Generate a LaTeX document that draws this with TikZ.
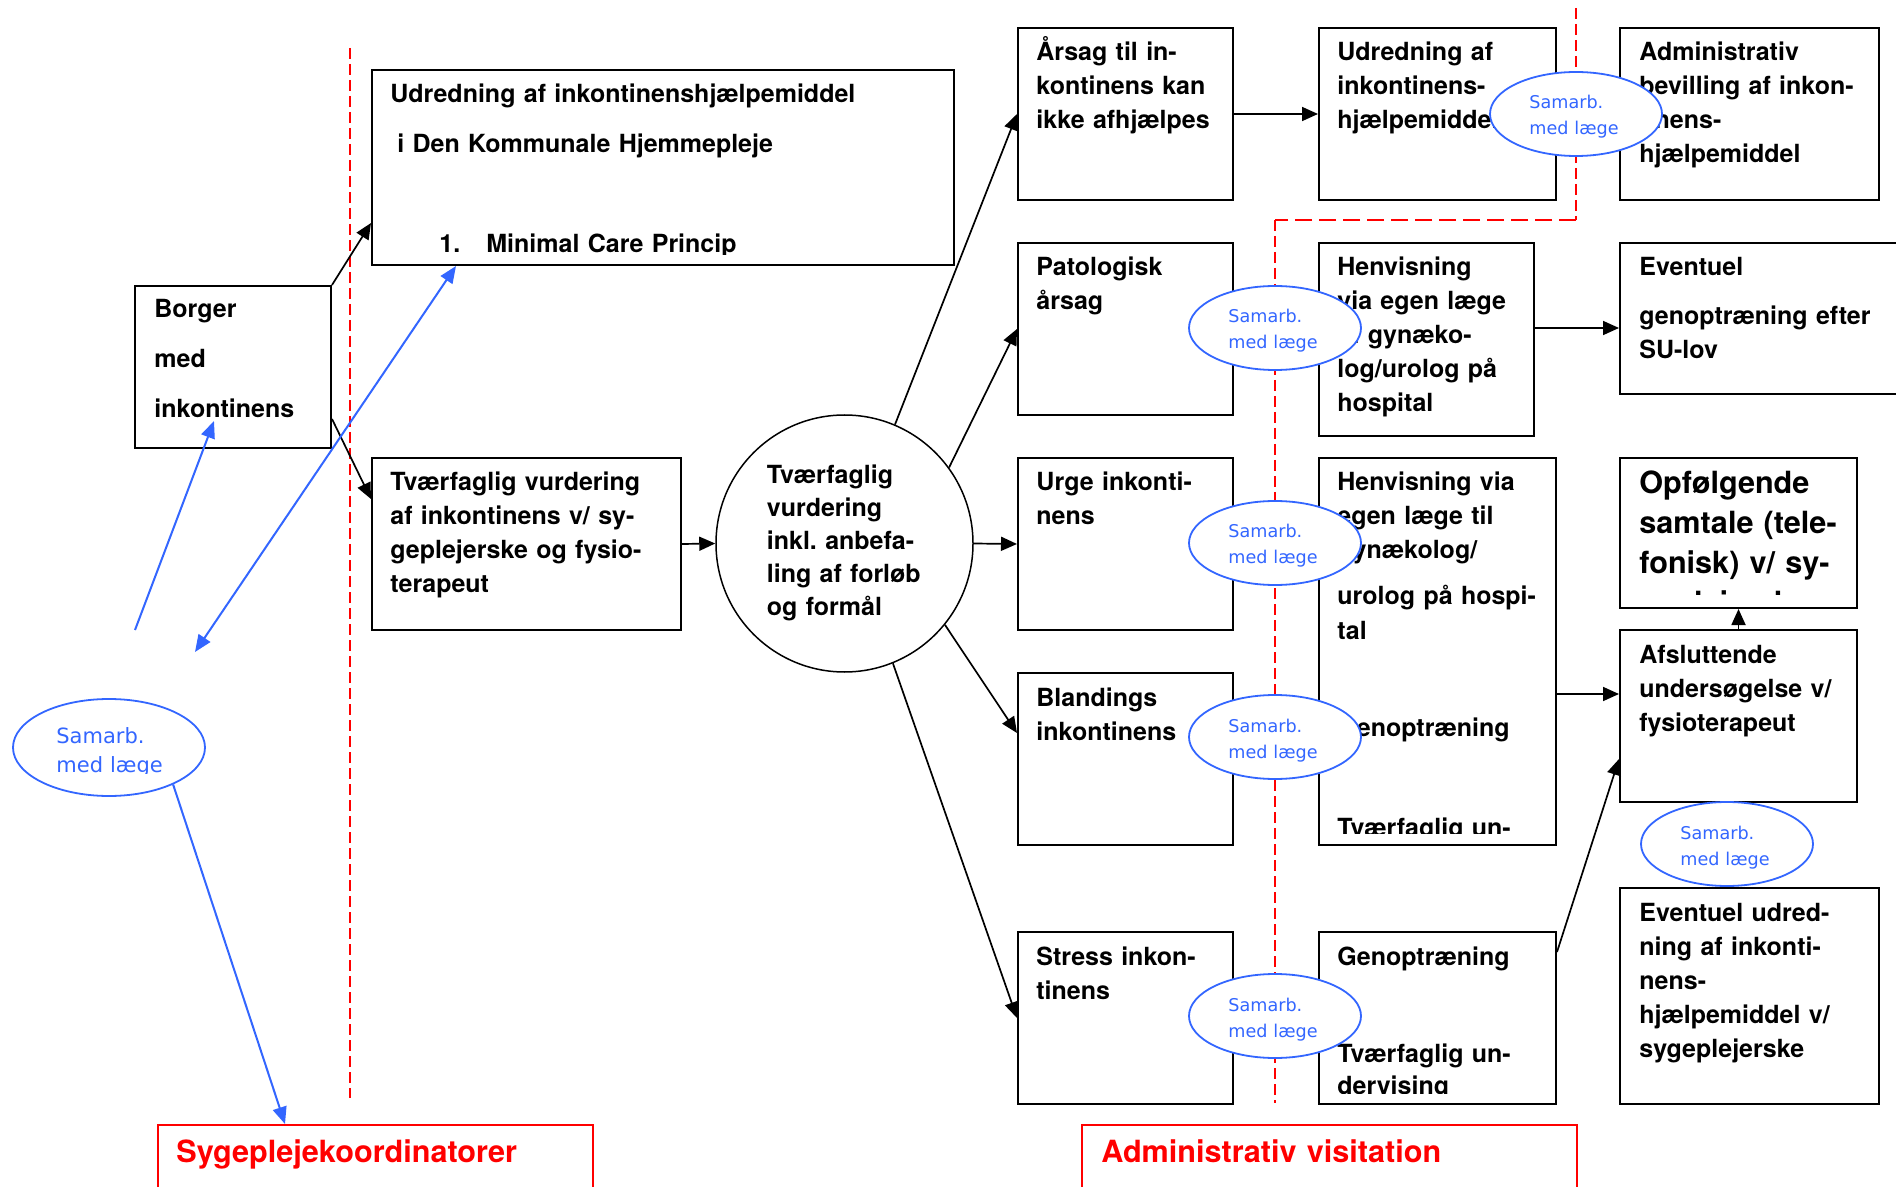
\documentclass[tikz,border=0pt]{standalone}
\usepackage{fontspec}
\setmainfont{TeX Gyre Heros}
\newfontfamily\samfont{DejaVu Sans}
\usetikzlibrary{arrows.meta,shapes.geometric,calc}
\definecolor{samblaa}{RGB}{51,102,255}
\frenchspacing

\begin{document}
\begin{tikzpicture}[x=0.5pt, y=-0.5pt,
    boks/.style={draw, line width=1pt, anchor=north west, inner sep=0pt},
    rodboks/.style={draw=red, line width=0.8pt, anchor=north west, inner sep=0pt},
    tekst/.style={anchor=base west, inner sep=0pt, align=left, text width=260pt,
        font=\fontsize{12.5}{17}\selectfont\bfseries},
    stortekst/.style={tekst, font=\fontsize{15.3}{20}\selectfont\bfseries},
    rodtekst/.style={tekst, text=red, font=\fontsize{15.3}{20}\selectfont\bfseries},
    pil/.style={line width=0.85pt, -{Triangle[length=8pt,width=7pt]}},
    blaapil/.style={samblaa, line width=1pt, -{Triangle[length=8.5pt,width=7pt]}},
    samarb/.style={ellipse, draw=samblaa, fill=white, line width=0.9pt, inner sep=0pt,
        minimum width=86pt, minimum height=42pt},
    samtekst/.style={anchor=base west, inner sep=0pt, align=left, text width=60pt,
        text=samblaa, font=\samfont\fontsize{8.8}{13}\selectfont},
    skel/.style={red, line width=0.65pt, dash pattern=on 5.5pt off 2.5pt}]

    \useasboundingbox (0,0) rectangle (1896,1187);
    \clip (0,0) rectangle (1896,1187);

    % Skillelinjer
    \draw[skel] (350,48) -- (350,1098);
    \draw[skel] (1576,8) -- (1576,220);
    \draw[skel, line width=1pt, dash pattern=on 8.5pt off 3.5pt] (1576,220) -- (1275,220);
    \draw[skel] (1275,220) -- (1275,1103);

    % Borger og hjemmepleje
    \node[boks, minimum width=98pt, minimum height=81pt] (borger) at (134,285) {};
    \node[tekst] (t-borger) at ($(borger.north west)+(20,33)$) {Borger\\[8pt]med\\[8pt]inkontinens};

    \node[boks, minimum width=291pt, minimum height=97.5pt] (udred) at (371,69) {};
    \begin{scope}
        \clip (udred.north west) rectangle ([yshift=5.5pt]udred.south east);
        \node[tekst] (t-udred) at ($(udred.north west)+(19,34)$) {Udredning af inkontinenshjælpemiddel\\[8pt]\hspace*{3.5pt}i Den Kommunale Hjemmepleje\\[33pt]\hspace*{24.5pt}\makebox[23.5pt][l]{1.}Minimal Care Princip};
    \end{scope}

    \node[boks, minimum width=154.5pt, minimum height=86pt] (tvaerf) at (371,457) {};
    \node[tekst] (t-tvaerf) at ($(tvaerf.north west)+(19,34)$) {Tværfaglig vurdering\\af inkontinens v/ sy-\\geplejerske og fysio-\\terapeut};

    \node[draw, circle, line width=0.75pt, minimum size=128.5pt, inner sep=0pt] (cirkel) at (844.5,543.5) {};
    \node[tekst, font=\fontsize{12.5}{16.5}\selectfont\bfseries] (t-cirkel) at (766.5,484) {Tværfaglig\\vurdering\\inkl. anbefa-\\ling af forløb\\og formål};

    % Aarsager
    \node[boks, minimum width=107.5pt, minimum height=86pt] (aarsag) at (1017,27) {};
    \node[tekst] (t-aarsag) at ($(aarsag.north west)+(19,34)$) {Årsag til in-\\kontinens kan\\ikke afhjælpes};

    \node[boks, minimum width=107.5pt, minimum height=86pt] (patologisk) at (1017,242) {};
    \node[tekst] (t-patologisk) at ($(patologisk.north west)+(19,34)$) {Patologisk\\årsag};

    \node[boks, minimum width=107.5pt, minimum height=86pt] (urge) at (1017,457) {};
    \node[tekst] (t-urge) at ($(urge.north west)+(19,34)$) {Urge inkonti-\\nens};

    \node[boks, minimum width=107.5pt, minimum height=86pt] (blandings) at (1017,672) {};
    \node[tekst] (t-blandings) at ($(blandings.north west)+(19,34)$) {Blandings\\inkontinens};

    \node[boks, minimum width=107.5pt, minimum height=86pt] (stress) at (1017,931) {};
    \node[tekst] (t-stress) at ($(stress.north west)+(19,34)$) {Stress inkon-\\tinens};

    % Forloeb
    \node[boks, minimum width=118.5pt, minimum height=86pt] (udred2) at (1318,27) {};
    \node[tekst] (t-udred2) at ($(udred2.north west)+(19,34)$) {Udredning af\\inkontinens-\\hjælpemiddel};

    \node[boks, minimum width=107.5pt, minimum height=96.5pt] (henv1) at (1318,242) {};
    \node[tekst] (t-henv1) at ($(henv1.north west)+(19,34)$) {Henvisning\\via egen læge\\til gynæko-\\log/urolog på\\hospital};

    \node[boks, minimum width=118.5pt, minimum height=193.5pt] (henv2) at (1318,457) {};
    \begin{scope}
        \clip (henv2.north west) rectangle ([yshift=6.5pt]henv2.south east);
        \node[tekst] (t-henv2) at ($(henv2.north west)+(19,34)$) {Henvisning via\\egen læge til\\gynækolog/\\[6pt]urolog på hospi-\\tal\\[32pt]Genoptræning\\[33pt]Tværfaglig un-};
    \end{scope}

    \node[boks, minimum width=118.5pt, minimum height=86pt] (genop) at (1318,931) {};
    \begin{scope}
        \clip (genop.north west) rectangle ([yshift=6pt]genop.south east);
        \node[tekst] (t-genop) at ($(genop.north west)+(19,34)$) {Genoptræning\\[31.5pt]Tværfaglig un-\\[-1pt]dervising};
    \end{scope}

    % Afslutning
    \node[boks, minimum width=129.5pt, minimum height=86pt] (admbev) at (1619,27) {};
    \node[tekst] (t-admbev) at ($(admbev.north west)+(20,34)$) {Administrativ\\bevilling af inkon-\\tinens-\\hjælpemiddel};

    \node[boks, minimum width=150pt, minimum height=75.5pt] (eventuel) at (1619,242) {};
    \node[tekst] (t-eventuel) at ($(eventuel.north west)+(20,34)$) {Eventuel\\[7.5pt]genoptræning efter\\SU-lov};

    \node[boks, minimum width=118.5pt, minimum height=75pt] (opfolg) at (1619,457) {};
    \begin{scope}
        \clip (opfolg.north west) rectangle ([yshift=7.5pt]opfolg.south east);
        \node[stortekst] (t-opfolg) at ($(opfolg.north west)+(20,37)$) {Opfølgende\\samtale (tele-\\fonisk) v/ sy-\\geplejerske};
    \end{scope}

    \node[boks, minimum width=118.5pt, minimum height=86pt] (afslut) at (1619,629) {};
    \node[tekst] (t-afslut) at ($(afslut.north west)+(20,34)$) {Afsluttende\\undersøgelse v/\\fysioterapeut};

    \node[boks, minimum width=129.5pt, minimum height=108pt] (evudred) at (1619,887) {};
    \node[tekst] (t-evudred) at ($(evudred.north west)+(20,34)$) {Eventuel udred-\\ning af inkonti-\\nens-\\hjælpemiddel v/\\sygeplejerske};

    % Roede overskrifter
    \node[rodboks, minimum width=217.5pt, minimum height=50pt] (sygepl) at (157,1124) {};
    \node[rodtekst] (t-sygepl) at ($(sygepl.north west)+(19,38)$) {Sygeplejekoordinatorer};

    \node[rodboks, minimum width=247.5pt, minimum height=50pt] (admvis) at (1081,1124) {};
    \node[rodtekst] (t-admvis) at ($(admvis.north west)+(20,38)$) {Administrativ visitation};

    % Samarbejde med laege
    \foreach \navn/\x/\y in {sam1/1576/114, sam2/1275/328, sam3/1275/543, sam4/1275/737, sam5/1275/1016, sam6/1727/844} {
        \node[samarb] (\navn) at (\x,\y) {};
        \begin{scope}
            \clip ($(\navn.center)+(-90,-45)$) rectangle ($(\navn.center)+(90,24)$);
            \node[samtekst] at ($(\navn.center)+(-47,-5)$) {Samarb.\\med læge};
        \end{scope}
    }
    \node[samarb, minimum width=96pt, minimum height=48.5pt] (sam0) at (109,747.5) {};
    \begin{scope}
        \clip ($(sam0.center)+(-100,-50)$) rectangle ($(sam0.center)+(100,26)$);
        \node[samtekst, font=\samfont\fontsize{10.5}{14.5}\selectfont] (t-sam0) at ($(sam0.center)+(-53,-4.5)$) {Samarb.\\med læge};
    \end{scope}

    % Pile
    \draw[pil] (borger.north east) -- ($(udred.south west)+(0,-43)$);
    \draw[pil] ($(borger.south east)+(0,-30)$) -- ($(tvaerf.north west)+(0,42)$);
    \draw[pil] (tvaerf.east) -- (cirkel.west);
    \draw[pil] (cirkel.67) -- (aarsag.west);
    \draw[pil] (cirkel.36) -- (patologisk.west);
    \draw[pil] (cirkel.east) -- (urge.west);
    \draw[pil] (cirkel.-39) -- ($(blandings.north west)+(0,61)$);
    \draw[pil] (cirkel.-68) -- (stress.west);
    \draw[pil] (aarsag.east) -- (udred2.west);
    \draw[pil] ($(henv1.north east)+(0,86)$) -- ($(eventuel.north west)+(0,86)$);
    \draw[pil] ($(henv2.north east)+(0,237)$) -- ($(afslut.north west)+(0,65)$);
    \draw[pil] ($(genop.north east)+(0,21)$) -- ($(afslut.north west)+(0,130)$);
    \draw[pil] (afslut.north) -- (opfolg.south);

    % Blaa pile
    \coordinate (blaa1) at (135,630);
    \coordinate (blaa2) at ($(borger.south west)+(80,-28)$);
    \coordinate (blaa3) at (195,652);
    \draw[blaapil] (blaa1) -- (blaa2);
    \draw[blaapil, {Triangle[length=8.5pt,width=7pt]}-{Triangle[length=8.5pt,width=7pt]}] (blaa3) -- ($(udred.south west)+(85,0)$);
    \draw[blaapil] (sam0.-30) -- ($(sygepl.north west)+(128,0)$);

\end{tikzpicture}
\end{document}
